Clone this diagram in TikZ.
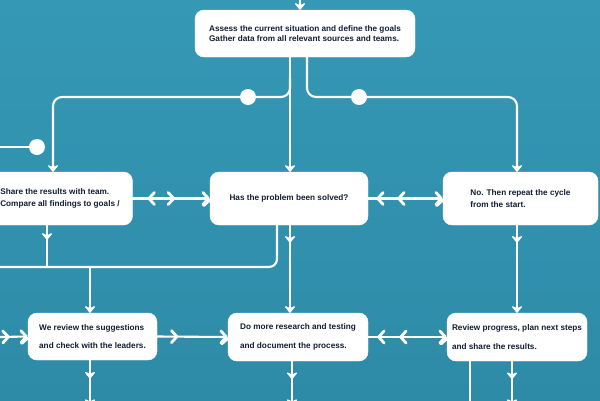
\documentclass[tikz,border=0pt]{standalone}
\usepackage{fontspec}
\setmainfont{Liberation Sans}
\usetikzlibrary{arrows.meta,decorations.markings}
\definecolor{bgtop}{HTML}{3598B4}
\definecolor{bgbot}{HTML}{2E8BA8}
\definecolor{ink}{HTML}{121E33}
\tikzset{
  blob/.tip={Stealth[round,length=8pt,width=13pt,inset=3pt]},
  chev/.tip={Straight Barb[round,length=5.5pt,width=12pt,line width=2.8pt]},
  stepbox/.style={fill=white, draw=white, rounded corners=9pt, inner sep=0pt,
    font=\bfseries\fontsize{8.2}{9.5}\selectfont, text=ink, align=left},
  link/.style={draw=white, line width=2.1pt, line cap=round},
  dot/.style={circle, fill=white, inner sep=0pt, minimum size=16pt},
  midtip/.style={postaction={draw=white, decorate, decoration={markings,
    mark=at position #1 with {\arrow[white]{blob}}}}},
  midchev/.style={postaction={draw=white, decorate, decoration={markings,
    mark=at position #1 with {\arrow[white]{chev}}}}},
  backchev/.style={postaction={draw=white, decorate, decoration={markings,
    mark=at position #1 with {\arrow[white]{chev[reversed]}}}}},
}
\begin{document}
\begin{tikzpicture}[x=1pt,y=-1pt]
  \useasboundingbox (0,0) rectangle (600,400);
  \clip (0,0) rectangle (600,400);
  \shade[top color=bgtop, bottom color=bgbot] (0,0) rectangle (600,400);

  % process boxes
  \node[stepbox, minimum width=220pt, minimum height=47pt] (top) at (305,33.5)
    {Assess the current situation and define the goals\\[1pt]
     Gather data from all relevant sources and teams.};
  \node[stepbox, minimum width=145pt, minimum height=53pt] (ml) at (60,198.5)
    {Share the results with team.\\[2pt]
     Compare all findings to goals /};
  \node[stepbox, minimum width=158pt, minimum height=53pt] (mm) at (289,198.5)
    {Has the problem been solved?};
  \node[stepbox, minimum width=155pt, minimum height=53pt] (mr) at (520.5,198.5)
    {No. Then repeat the cycle\\[3pt] from the start.};
  \node[stepbox, minimum width=129pt, minimum height=47pt] (bl) at (92.5,336.5)
    {We review the suggestions\\[9pt] and check with the leaders.};
  \node[stepbox, minimum width=140pt, minimum height=48pt] (bm) at (298,337)
    {Do more research and testing\\[9pt] and document the process.};
  \node[stepbox, minimum width=140pt, minimum height=48pt] (br) at (517,337)
    {Review progress, plan next steps\\[9pt] and share the results.};

  % junction dots
  \node[dot] (dL) at (248,97) {};
  \node[dot] (dR) at (359,97) {};
  \node[dot] (dW) at (37,147) {};

  % helper coordinates
  \coordinate (tin) at (300,-6);
  \coordinate (c290) at (290,0);
  \coordinate (c307) at (307,0);
  \coordinate (jL) at (290,78);
  \coordinate (hL) at (53,97);
  \coordinate (hR) at (517,97);
  \coordinate (wL) at (0,147);
  \coordinate (c47) at (47,0);
  \coordinate (c90) at (90,0);
  \coordinate (bus0) at (0,267);
  \coordinate (busE) at (277,267);
  \coordinate (busJ) at (47,267);
  \coordinate (busD) at (90,267);
  \coordinate (bin) at (0,337);
  \coordinate (c292) at (292,0);
  \coordinate (c470) at (470,0);
  \coordinate (c512) at (512,0);
  \coordinate (floor) at (0,406);

  % into the top box
  \draw[link, -{blob}] (tin) -- (top.north -| tin);
  % trunk from the top box to the decision box
  \draw[link, -{blob}] (top.south -| c290) -- (mm.north -| c290);
  % left branch
  \draw[link, rounded corners=9pt, -{blob}] (jL) |- (hL) -- (ml.north -| hL);
  % right branch
  \draw[link, rounded corners=9pt, -{blob}] (top.south -| c307) |- (hR) -- (mr.north -| hR);
  % feed from the left edge
  \draw[link] (wL) -- (dW);

  % middle row links
  \draw[link, backchev=0.3, midchev=0.55, -{chev}] (ml.east) -- (mm.west);
  \draw[link, backchev=0.22, backchev=0.5, -{chev}] (mm.east) -- (mr.west);

  % return bus under the middle row
  \draw[link, midtip=0.35] (ml.south -| c47) -- (busJ);
  \draw[link, rounded corners=8pt] (bus0) -| (mm.south -| busE);
  \draw[link, -{blob}] (busD) -- (bl.north -| busD);
  \draw[link, midtip=0.2, -{blob}] (mm.south -| c290) -- (bm.north -| c290);
  \draw[link, midtip=0.2, -{blob}] (mr.south -| hR) -- (br.north -| hR);

  % bottom row links
  \draw[link, midchev=0.35, -{chev}] (bin) -- (bl.west);
  \draw[link, midchev=0.3, -{chev}] (bl.east) -- (bm.west);
  \draw[link, backchev=0.22, backchev=0.5, -{chev}] (bm.east) -- (br.west);

  % leads out of the bottom row
  \draw[link, midtip=0.4, -{blob}] (bl.south -| c90) -- (floor -| c90);
  \draw[link, midtip=0.4, -{blob}] (bm.south -| c292) -- (floor -| c292);
  \draw[link] (br.south -| c470) -- (floor -| c470);
  \draw[link, midtip=0.4, -{blob}] (br.south -| c512) -- (floor -| c512);
\end{tikzpicture}
\end{document}
